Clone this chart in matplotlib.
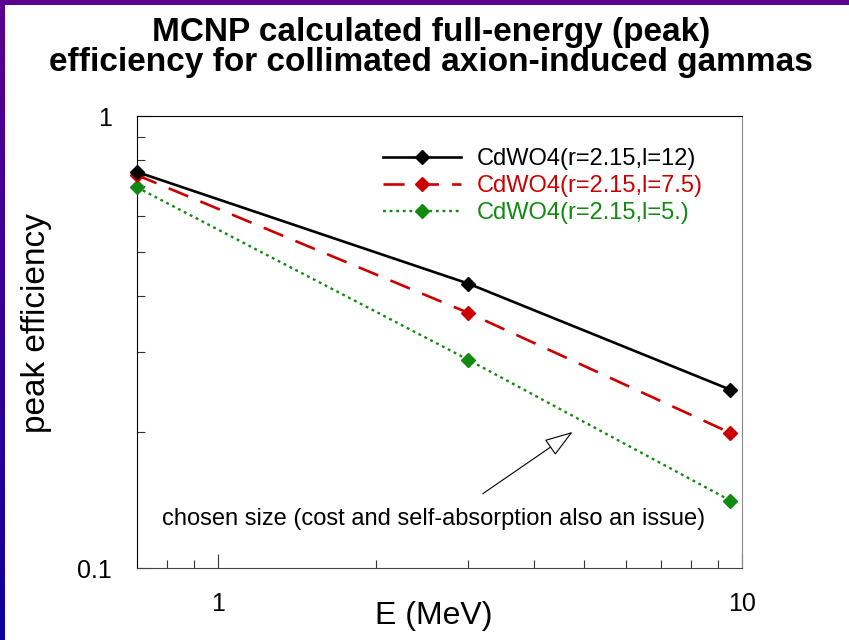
import numpy as np
import matplotlib
matplotlib.use('Agg')
import matplotlib.pyplot as plt
from matplotlib.colors import LinearSegmentedColormap

# data
energy = [0.7, 3.0, 9.5]
eff_l12 = [0.752, 0.426, 0.248]
eff_l75 = [0.740, 0.367, 0.199]
eff_l5 = [0.695, 0.289, 0.141]
labels = ['CdWO4(r=2.15,l=12)', 'CdWO4(r=2.15,l=7.5)', 'CdWO4(r=2.15,l=5.)']
colors = ['black', '#cc0000', '#128a12']

plt.rcParams['font.family'] = ['Liberation Sans', 'DejaVu Sans']

W, H = 849, 640
fig = plt.figure(figsize=(W / 100, H / 100), dpi=100)

# purple slide border (top and left)
grad = LinearSegmentedColormap.from_list('border', ['#5c0090', '#10009c'])
ax_left = fig.add_axes([0, 0, 5 / W, 1])
ax_left.imshow(np.linspace(0, 1, 100).reshape(-1, 1), cmap=grad, aspect='auto')
ax_left.axis('off')
ax_top = fig.add_axes([0, 1 - 5 / H, 1, 5 / H])
ax_top.set_facecolor('#5c0090')
ax_top.set_xticks([])
ax_top.set_yticks([])
for s in ax_top.spines.values():
    s.set_visible(False)

ax = fig.add_axes([137 / W, (H - 568) / H, (742 - 137) / W, (568 - 116) / H])

ax.plot(energy, eff_l12, color=colors[0], lw=1.9, marker='D', ms=7.5,
        label=labels[0], clip_on=False, zorder=5)
ax.plot(energy, eff_l75, color=colors[1], lw=1.9, marker='D', ms=7.5,
        dashes=(8, 5), label=labels[1], clip_on=False, zorder=4)
ax.plot(energy, eff_l5, color=colors[2], lw=1.7, marker='D', ms=7.5,
        dashes=(1.2, 1.6), label=labels[2], clip_on=False, zorder=3)

ax.set_xscale('log')
ax.set_yscale('log')
ax.set_xlim(0.7, 10)
ax.set_ylim(0.1, 1)

ax.set_xticks([1, 10])
ax.set_xticklabels(['1', '10'])
ax.set_xticks([0.8, 0.9, 2, 3, 4, 5, 6, 7, 8, 9], minor=True)
ax.set_xticklabels([], minor=True)
ax.set_yticks([0.1, 1])
ax.set_yticklabels(['0.1', '1'])
ax.set_yticks([0.2, 0.3, 0.4, 0.5, 0.6, 0.7, 0.8, 0.9], minor=True)
ax.set_yticklabels([], minor=True)

ax.tick_params(which='both', direction='in', top=False, right=False,
               width=0.8, color='#333333')
ax.tick_params(which='major', length=10, labelsize=18)
ax.tick_params(axis='x', which='major', pad=17)
ax.tick_params(axis='y', which='major', pad=18)
ax.tick_params(which='minor', length=6)
ax.spines['right'].set_color('#8a8a8a')
ax.spines['bottom'].set_color('#444444')

ax.set_xlabel('E (MeV)', fontsize=23)
ax.xaxis.set_label_coords(0.49, -0.074)
ax.set_ylabel('peak efficiency', fontsize=24)
ax.yaxis.set_label_coords(-0.14, 0.543)

leg = ax.legend(loc='upper right', bbox_to_anchor=(0.95, 0.949), frameon=False,
                fontsize=17, handlelength=3.3, handletextpad=0.65,
                labelspacing=0.2, borderaxespad=0)
for txt, c in zip(leg.get_texts(), colors):
    txt.set_color(c)

ax.annotate('', xy=(4.75, 0.2), xytext=(3.2, 0.146),
            arrowprops=dict(arrowstyle='-|>,head_length=0.9,head_width=0.3',
                            mutation_scale=20, fc='white', ec='black', lw=0.8,
                            shrinkA=0, shrinkB=0))
ax.text(2.58, 0.1284, 'chosen size (cost and self-absorption also an issue)',
        fontsize=17, ha='center', va='center')

fig.text(0.508, 0.926, 'MCNP calculated full-energy (peak)\n'
         'efficiency for collimated axion-induced gammas',
         ha='center', va='center', fontsize=24, fontweight='bold',
         linespacing=0.95)

fig.savefig('out.png', dpi=100)
